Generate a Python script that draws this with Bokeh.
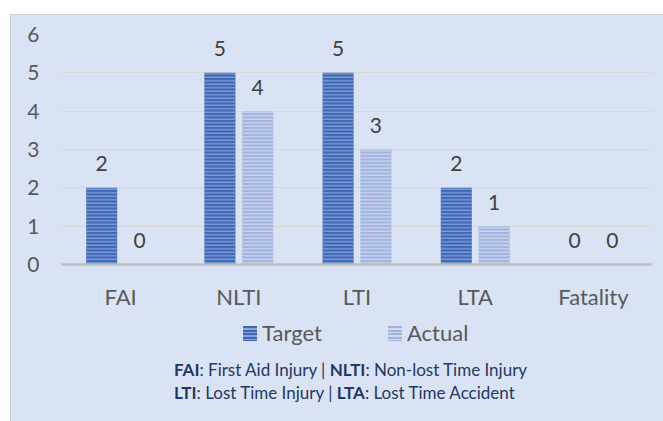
from bokeh.plotting import figure
from bokeh.models import (ColumnDataSource, Range1d, FactorRange, Div, Spacer, FixedTicker)
from bokeh.layouts import column, row
from bokeh.transform import dodge
from bokeh.core.properties import value
from bokeh.embed import file_html
from bokeh.resources import INLINE

# ---- data ----
categories = ["FAI", "NLTI", "LTI", "LTA", "Fatality"]
target = [2, 5, 5, 2, 0]
actual = [0, 4, 3, 1, 0]
series_names = ["Target", "Actual"]
y_ticks = [0, 1, 2, 3, 4, 5, 6]
footnote_lines = [
    [("FAI", "First Aid Injury"), ("NLTI", "Non-lost Time Injury")],
    [("LTI", "Lost Time Injury"), ("LTA", "Lost Time Accident")],
]

PANEL = "#DAE3F3"
FONT = "Lato"
T_FILL, T_HATCH = "#3E66B3", "#87A6DF"
A_FILL, A_HATCH = "#A0B4DF", "#D0DAF1"

src = ColumnDataSource(dict(
    cat=categories, target=target, actual=actual,
    tl=[str(v) for v in target], al=[str(v) for v in actual],
))

p = figure(x_range=FactorRange(factors=categories), y_range=Range1d(0, 6),
           width=651, height=297, output_backend="svg", toolbar_location=None,
           min_border_left=50, min_border_right=10, min_border_top=19, min_border_bottom=47)
p.background_fill_color = PANEL
p.border_fill_color = PANEL
p.outline_line_color = None

OFF = 0.16
W = 0.262
p.vbar(x=dodge("cat", -OFF, range=p.x_range), top="target", width=W, source=src,
       fill_color=T_FILL, line_color=None, hatch_pattern="horizontal_line",
       hatch_color=T_HATCH, hatch_scale=3.5, hatch_weight=1.2)
p.vbar(x=dodge("cat", OFF, range=p.x_range), top="actual", width=W, source=src,
       fill_color=A_FILL, line_color=None, hatch_pattern="horizontal_line",
       hatch_color=A_HATCH, hatch_scale=3.5, hatch_weight=1.2)

for col, lab, off in (("target", "tl", -OFF), ("actual", "al", OFF)):
    p.text(x=dodge("cat", off, range=p.x_range), y=col, text=lab,
           source=src, y_offset=-24, text_align="center", text_baseline="middle",
           text_font=value(FONT), text_font_size="21px", text_color="#404040")

p.yaxis.ticker = FixedTicker(ticks=y_ticks)
p.yaxis.axis_line_color = None
p.yaxis.major_tick_line_color = None
p.yaxis.minor_tick_line_color = None
p.yaxis.major_tick_out = 0
p.yaxis.major_tick_in = 0
p.yaxis.major_label_standoff = 22
p.yaxis.major_label_text_font = FONT
p.yaxis.major_label_text_font_size = "21px"
p.yaxis.major_label_text_color = "#595959"

p.xaxis.axis_line_color = "#BFBFBF"
p.xaxis.axis_line_width = 2.5
p.xaxis.major_tick_line_color = None
p.xaxis.minor_tick_line_color = None
p.xaxis.major_tick_out = 0
p.xaxis.major_tick_in = 0
p.xaxis.major_label_standoff = 18
p.xaxis.major_label_text_font = FONT
p.xaxis.major_label_text_font_size = "22px"
p.xaxis.major_label_text_color = "#595959"

p.xgrid.grid_line_color = None
p.ygrid.grid_line_color = "#DAD8D4"
p.ygrid.grid_line_width = 1


def stripes(fill, hatch):
    return (f"repeating-linear-gradient(to bottom, {fill} 0px, {fill} 2.3px, "
            f"{hatch} 2.3px, {hatch} 3.5px)")


legend_html = (
    f'<span style="position:absolute; left:227px; top:9px; width:14px; height:15px; '
    f'background:{stripes(T_FILL, T_HATCH)};"></span>'
    f'<span style="position:absolute; left:246px; top:1px; line-height:30px; font-size:22px; '
    f'color:#595959;">{series_names[0]}</span>'
    f'<span style="position:absolute; left:372px; top:9px; width:14px; height:15px; '
    f'background:{stripes(A_FILL, A_HATCH)};"></span>'
    f'<span style="position:absolute; left:391px; top:1px; line-height:30px; font-size:22px; '
    f'color:#595959;">{series_names[1]}</span>'
)
foot_html = "<br>".join(
    " | ".join(f"<b>{a}</b>: {b}" for a, b in line) for line in footnote_lines
)
html = (
    f'<div style="position:relative; width:640px; height:100px; font-family:Lato;">'
    f'{legend_html}'
    f'<div style="position:absolute; left:158px; top:41px; font-size:17px; line-height:23px; '
    f'color:#1F3864; white-space:nowrap;">{foot_html}</div>'
    f'</div>'
)
div = Div(text=html, width=651, height=108, styles={"background-color": PANEL})

inner = column(p, div, spacing=0,
               styles={"border-left": "1px solid #D0D0D0", "border-top": "1px solid #D0D0D0",
                       "background-color": PANEL})
outer = column(Spacer(height=14), row(Spacer(width=10), inner))

open("out.html", "w").write(file_html(outer, INLINE))
